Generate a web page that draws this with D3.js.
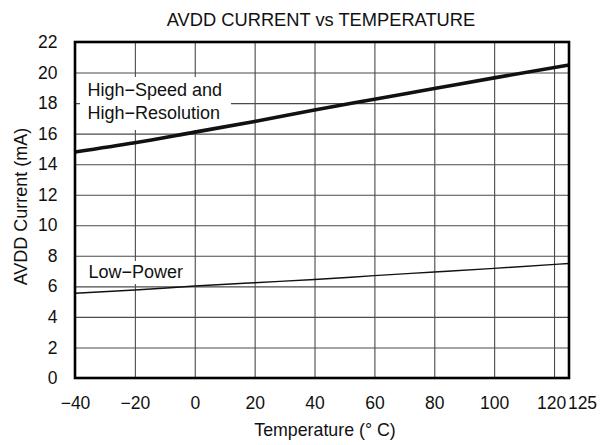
<!DOCTYPE html>
<html><head><meta charset="utf-8">
<script src="https://cdn.jsdelivr.net/npm/d3@7"></script>
<style>
body{margin:0;background:#fff;}
svg{display:block;font-family:"Liberation Sans",Arial,sans-serif;}
</style></head>
<body><svg id="c" width="605" height="445"></svg>
<script>
const temps = [-40, -20, 0, 20, 40, 60, 80, 100, 125];
const highSpeed = [14.8, 15.4, 16.1, 16.8, 17.55, 18.25, 18.95, 19.65, 20.5];
const lowPower = [5.55, 5.76, 6.02, 6.24, 6.45, 6.7, 6.94, 7.18, 7.5];
const xTicks = [-40, -20, 0, 20, 40, 60, 80, 100, 120, 125];
const yTicks = [0, 2, 4, 6, 8, 10, 12, 14, 16, 18, 20, 22];
const title = "AVDD CURRENT vs TEMPERATURE";
const xTitle = "Temperature (\u00B0 C)";
const yTitle = "AVDD Current (mA)";

const svg = d3.select("#c");
const L = 75, R = 569, T = 42, B = 378;
const x = d3.scaleLinear().domain([-40, 125]).range([L, R]);
const y = d3.scaleLinear().domain([0, 22]).range([B, T]);

// grid
const grid = svg.append("g");
grid.append("g").attr("transform", `translate(0,${B})`)
  .call(d3.axisBottom(x).tickValues(xTicks.filter(v => v > -40 && v < 125)).tickSize(-(B - T)).tickFormat(""))
  .call(g => g.select(".domain").remove())
  .call(g => g.selectAll("line").attr("stroke", "#4a4a4a").attr("stroke-width", 1.1));
grid.append("g").attr("transform", `translate(${L},0)`)
  .call(d3.axisLeft(y).tickValues(yTicks.filter(v => v > 0 && v < 22)).tickSize(-(R - L)).tickFormat(""))
  .call(g => g.select(".domain").remove())
  .call(g => g.selectAll("line").attr("stroke", "#4a4a4a").attr("stroke-width", 1.1));

// labels with white background
function label(lines, bx, by, bw, bh, tx, ty, lh) {
  svg.append("rect").attr("x", bx).attr("y", by).attr("width", bw).attr("height", bh).attr("fill", "#fff");
  lines.forEach((s, i) => svg.append("text").attr("x", tx).attr("y", ty + i * lh)
    .attr("font-size", 18).attr("fill", "#111").text(s));
}
label(["High\u2212Speed and", "High\u2212Resolution"], 80, 77, 151, 53, 87.5, 96, 23.3);
label(["Low\u2212Power"], 85, 261, 107, 23, 88.5, 278.3, 0);

// curves
const line = d3.line().x((d, i) => x(temps[i])).y(d => y(d)).curve(d3.curveMonotoneX);
svg.append("path").datum(lowPower).attr("d", line).attr("fill", "none").attr("stroke", "#111").attr("stroke-width", 1.4);
svg.append("path").datum(highSpeed).attr("d", line).attr("fill", "none").attr("stroke", "#111").attr("stroke-width", 3.6);

// frame
svg.append("rect").attr("x", L).attr("y", T).attr("width", R - L).attr("height", B - T)
  .attr("fill", "none").attr("stroke", "#000").attr("stroke-width", 2.6);

// axes labels
const xa = svg.append("g").attr("transform", `translate(0,${B})`)
  .call(d3.axisBottom(x).tickValues(xTicks).tickSize(0).tickPadding(18.5).tickFormat(d3.format("d")));
xa.select(".domain").remove();
xa.selectAll("text").attr("font-size", 17.5).attr("font-family", null).attr("fill", "#111")
  .attr("dx", d => d === 120 ? -3 : d === 125 ? 13 : 0);
const ya = svg.append("g").attr("transform", `translate(${L},0)`)
  .call(d3.axisLeft(y).tickValues(yTicks).tickSize(0).tickPadding(17.5));
ya.select(".domain").remove();
ya.selectAll("text").attr("font-size", 17.5).attr("font-family", null).attr("fill", "#111");

svg.append("text").attr("x", 321).attr("y", 26).attr("text-anchor", "middle")
  .attr("font-size", 18.3).attr("fill", "#111").text(title);
svg.append("text").attr("x", 325).attr("y", 436).attr("text-anchor", "middle")
  .attr("font-size", 17.8).attr("fill", "#111").text(xTitle);
svg.append("text").attr("transform", "translate(26.5,206.5) rotate(-90)").attr("text-anchor", "middle")
  .attr("font-size", 18).attr("fill", "#111").text(yTitle);
</script></body></html>
